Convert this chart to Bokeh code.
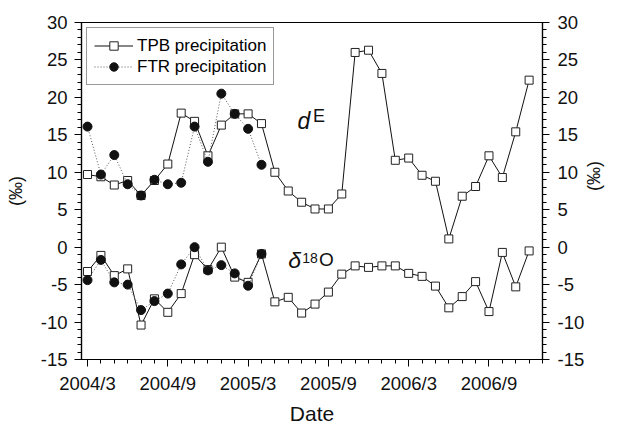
import math
from bokeh.plotting import figure
from bokeh.models import Range1d, LinearAxis, FixedTicker, Legend, LegendItem, Label
from bokeh.embed import file_html
from bokeh.resources import INLINE

# ---------------- data ----------------
dates = ["2004/3", "2004/4", "2004/5", "2004/6", "2004/7", "2004/8", "2004/9",
         "2004/10", "2004/11", "2004/12", "2005/1", "2005/2", "2005/3", "2005/4",
         "2005/5", "2005/6", "2005/7", "2005/8", "2005/9", "2005/10", "2005/11",
         "2005/12", "2006/1", "2006/2", "2006/3", "2006/4", "2006/5", "2006/6",
         "2006/7", "2006/8", "2006/9", "2006/10", "2006/11", "2006/12"]
tick_labels = ["2004/3", "2004/9", "2005/3", "2005/9", "2006/3", "2006/9"]
y_tick_values = [-15, -10, -5, 0, 5, 10, 15, 20, 25, 30]
y_tick_labels = ["-15", "-10", "-5", "0", "5", "10", "15", "20", "25", "30"]

tpb_dE = [9.7, 9.4, 8.3, 8.9, 6.9, 8.9, 11.1, 17.9, 16.8, 12.2, 16.3, 17.8,
          17.8, 16.5, 10.0, 7.5, 6.0, 5.1, 5.1, 7.1, 26.0, 26.3, 23.2, 11.6,
          11.9, 9.6, 8.8, 1.1, 6.8, 8.1, 12.2, 9.3, 15.4, 22.3]
tpb_d18O = [-3.25, -1.1, -3.8, -2.9, -10.4, -6.9, -8.7, -6.2, -1.0, -3.0, 0.0,
            -4.0, -4.7, -0.9, -7.3, -6.7, -8.8, -7.6, -6.0, -3.6, -2.5, -2.7,
            -2.5, -2.5, -3.5, -3.9, -5.2, -8.1, -6.6, -4.6, -8.6, -0.7, -5.3, -0.5]
ftr_dE = [16.1, 9.7, 12.3, 8.4, 6.9, 9.0, 8.4, 8.6, 16.1, 11.4, 20.5, 17.8, 15.8, 11.0]
ftr_d18O = [-4.4, -1.7, -4.7, -5.0, -8.4, -7.2, -6.2, -2.3, 0.0, -3.1, -2.4,
            -3.5, -5.15, -0.9]

x_tpb = [dates.index(d) for d in dates[:len(tpb_dE)]]
x_ftr = [dates.index(d) for d in dates[:len(ftr_dE)]]
major_ticks = [dates.index(t) for t in tick_labels]
minor_ticks = list(range(len(dates) + 1))

FONT = "Liberation Sans"

p = figure(width=617, height=427, output_backend="svg", toolbar_location=None,
           x_range=Range1d(-0.45, 34), y_range=Range1d(-15, 30),
           min_border_left=81, min_border_right=68, min_border_top=22,
           min_border_bottom=64)
p.xgrid.visible = False
p.ygrid.visible = False
p.outline_line_color = "black"
p.outline_line_width = 1.2
p.background_fill_color = "white"
p.border_fill_color = "white"

# series
l1 = p.line(x_tpb, tpb_dE, line_color="#111111", line_width=1)
s1 = p.scatter(x_tpb, tpb_dE, marker="square", size=8, fill_color="white",
               line_color="#222222", line_width=1)
l2 = p.line(x_tpb, tpb_d18O, line_color="#111111", line_width=1)
s2 = p.scatter(x_tpb, tpb_d18O, marker="square", size=8, fill_color="white",
               line_color="#222222", line_width=1)
l3 = p.line(x_ftr, ftr_dE, line_color="#555555", line_width=1, line_dash="1 2")
c3 = p.scatter(x_ftr, ftr_dE, marker="circle", size=9, fill_color="#111111",
               line_color="#111111")
l4 = p.line(x_ftr, ftr_d18O, line_color="#555555", line_width=1, line_dash="1 2")
c4 = p.scatter(x_ftr, ftr_d18O, marker="circle", size=9, fill_color="#111111",
               line_color="#111111")

legend = Legend(items=[
    LegendItem(label="TPB precipitation", renderers=[l1, s1]),
    LegendItem(label="FTR precipitation", renderers=[l3, c3]),
], location="top_left")
legend.margin = 5
legend.padding = 7
legend.spacing = 0
legend.glyph_width = 39
legend.glyph_height = 21
legend.label_height = 21
legend.label_standoff = 4
legend.label_text_font = FONT
legend.label_text_font_size = "17px"
legend.label_text_color = "black"
legend.border_line_color = "#333333"
legend.border_line_width = 1
legend.background_fill_alpha = 1
p.add_layout(legend)

# axes
def style_axis(ax):
    ax.axis_line_color = "black"
    ax.axis_line_width = 1.2
    ax.major_tick_line_color = "black"
    ax.minor_tick_line_color = "black"
    ax.major_tick_out = 7
    ax.major_tick_in = 0
    ax.minor_tick_out = 4
    ax.minor_tick_in = 0
    ax.major_label_text_font = FONT
    ax.major_label_text_font_size = "18.5px"
    ax.major_label_text_color = "#111111"
    ax.axis_label_text_font = FONT
    ax.axis_label_text_font_style = "normal"
    ax.axis_label_text_color = "#111111"

xa = p.xaxis[0]
xa.ticker = FixedTicker(ticks=major_ticks, minor_ticks=minor_ticks)
xa.major_label_overrides = {t: lab for t, lab in zip(major_ticks, tick_labels)}
xa.axis_label = "Date"
style_axis(xa)
xa.axis_label_text_font_size = "21px"
xa.major_label_standoff = 6
xa.axis_label_standoff = 5

y_minor = list(range(-15, 31))
y_over = {v: s for v, s in zip(y_tick_values, y_tick_labels)}
ya = p.yaxis[0]
ya.ticker = FixedTicker(ticks=y_tick_values, minor_ticks=y_minor)
ya.major_label_overrides = y_over
ya.axis_label = "(‰)"
style_axis(ya)
ya.axis_label_text_font_size = "18px"
ya.major_label_standoff = 7
ya.axis_label_standoff = 12

ra = LinearAxis(ticker=FixedTicker(ticks=y_tick_values, minor_ticks=y_minor),
                axis_label="(‰)")
ra.major_label_overrides = y_over
style_axis(ra)
ra.axis_label_text_font_size = "18px"
ra.major_label_standoff = 8
ra.axis_label_standoff = 7
ra.axis_label_orientation = math.pi / 2
p.add_layout(ra, "right")

# annotations
def lab(x, y, text, size, style="normal"):
    p.add_layout(Label(x=x, y=y, text=text, text_font=FONT, text_font_size=size,
                       text_font_style=style, text_color="#111111",
                       text_baseline="alphabetic", text_align="left"))

lab(15.7, 16.8, "d", "23px", "italic")
lab(16.85, 17.5, "E", "18px")
lab(15.0, -1.7, "δ", "23px", "italic")
lab(16.05, -1.45, "18", "14px")
lab(17.3, -1.7, "O", "19px")

open("out.html", "w").write(file_html(p, INLINE))
